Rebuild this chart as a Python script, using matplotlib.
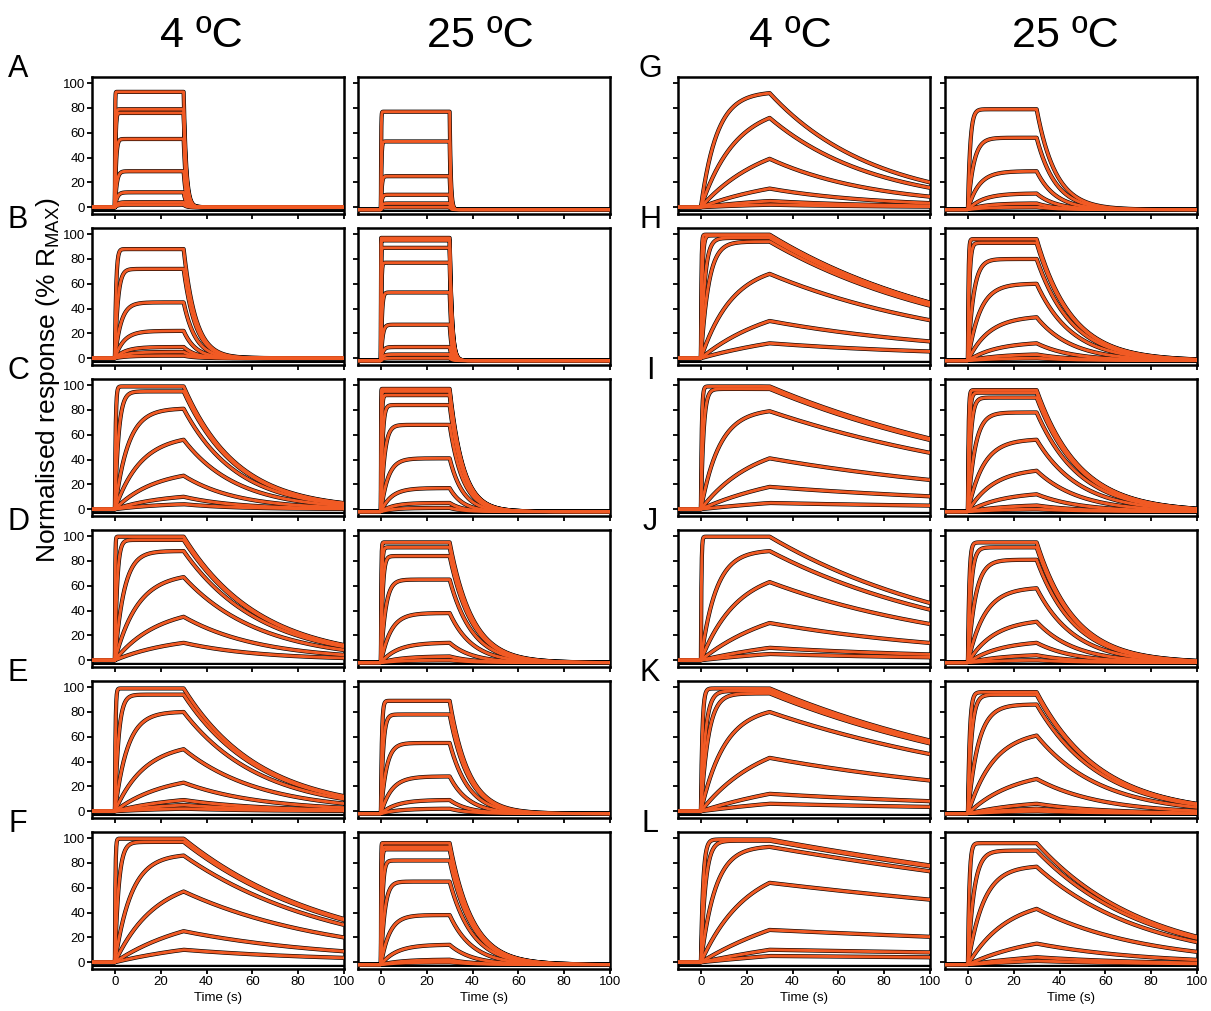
import numpy as np
import matplotlib.pyplot as plt

plt.rcParams['font.family'] = ['Liberation Sans', 'DejaVu Sans']

# response at the end of the 30 s injection, % Rmax
peaks_A4 = [93, 79, 76, 55, 29, 12, 4, 2]
peaks_A25 = [79, 55, 27, 12, 5, 2]
peaks_B4 = [88, 72, 45, 22, 9, 5, 2]
peaks_B25 = [99, 97, 91, 79, 55, 29, 11, 5, 2]
peaks_C4 = [99, 95, 81, 56, 27, 10, 4]
peaks_C25 = [99, 97, 94, 86, 70, 43, 19, 7, 3]
peaks_D4 = [100, 97, 88, 67, 35, 14]
peaks_D25 = [97, 93, 86, 67, 40, 16, 5, 2]
peaks_E4 = [99, 94, 80, 50, 23, 9, 5, 2]
peaks_E25 = [91, 80, 57, 30, 11, 4]
peaks_F4 = [100, 97, 86, 57, 25, 10]
peaks_F25 = [98, 95, 93, 84, 67, 40, 16, 4, 2]
peaks_G4 = [92, 72, 39, 15, 5, 2]
peaks_G25 = [81, 58, 31, 13, 5, 2]
peaks_H4 = [100, 99, 97, 94, 68, 30, 12]
peaks_H25 = [98, 95, 82, 62, 35, 14, 5, 2]
peaks_I4 = [99, 97, 79, 41, 18, 5]
peaks_I25 = [98, 96, 92, 80, 58, 33, 14, 5, 2]
peaks_J4 = [100, 88, 63, 30, 10, 5]
peaks_J25 = [97, 93, 83, 60, 33, 16, 6, 2]
peaks_K4 = [99, 97, 95, 80, 43, 14, 6]
peaks_K25 = [98, 96, 88, 63, 28, 8, 4, 2]
peaks_L4 = [99, 98, 93, 64, 26, 10, 5]
peaks_L25 = [98, 92, 79, 45, 17, 6, 3]

letters = list("ABCDEFGHIJKL")
# off-rates (1/s) from the decay of the top trace
koff_4 = [0.9, 0.19, 0.043, 0.030, 0.030, 0.015, 0.0218, 0.0114, 0.0079, 0.011, 0.0079, 0.0034]
koff_25 = [2.0, 1.0, 0.17, 0.10, 0.12, 0.10, 0.12, 0.065, 0.053, 0.06, 0.036, 0.021]
# how fast the association phase rises relative to a plain 1:1 model
assoc_4 = [1, 1.2, 0.7, 1.0, 1.25, 1.2, 0.4, 1.6, 3.4, 1.6, 2.0, 3.0]
assoc_25 = [1, 1, 1.2, 2, 1.9, 2.5, 1.7, 1.2, 1.3, 0.85, 0.7, 1.5]
base_4 = 0.0
base_25 = -2.0
blank = -3.0

t_inj = 30.0
t = np.linspace(-10, 100, 1101)

peaks_all = {k: v for k, v in globals().items() if k.startswith('peaks_')}

orange = '#F15A24'


def kobs(f, koff, s):
    return koff * (1 + s * f / (1 - f))


def solve_f(p, koff, s):
    # find fraction at equilibrium so that the trace reaches p at t_inj
    p = min(p, 99.6) / 100.0
    lo, hi = p, 0.9995
    for _ in range(60):
        mid = 0.5 * (lo + hi)
        val = mid * (1 - np.exp(-kobs(mid, koff, s) * t_inj))
        if val < p:
            lo = mid
        else:
            hi = mid
    return 0.5 * (lo + hi)


def trace(p, koff, s, base):
    f = solve_f(p, koff, s)
    k = kobs(f, koff, s)
    y = np.zeros_like(t)
    a = (t >= 0) & (t <= t_inj)
    y[a] = 100 * f * (1 - np.exp(-k * t[a]))
    r30 = 100 * f * (1 - np.exp(-k * t_inj))
    d = t > t_inj
    y[d] = r30 * np.exp(-koff * (t[d] - t_inj))
    return y + base


W, H = 1211, 1011
fig = plt.figure(figsize=(W / 100, H / 100), dpi=100)

col_left = [92, 358, 678, 945]
ax_w = 252
row_top = [77, 228, 379, 530, 681, 832]
ax_h = 137

for i, let in enumerate(letters):
    row = i % 6
    block = i // 6
    for j, temp in enumerate(['4', '25']):
        col = block * 2 + j
        left = col_left[col]
        top = row_top[row]
        ax = fig.add_axes([left / W, 1 - (top + ax_h) / H, ax_w / W, ax_h / H])
        if temp == '4':
            koff, s, base = koff_4[i], assoc_4[i], base_4
        else:
            koff, s, base = koff_25[i], assoc_25[i], base_25
        pk = peaks_all['peaks_' + let + temp]
        ax.plot(t, np.full_like(t, blank), color='black', lw=1.6, zorder=1)
        for p in pk:
            y = trace(p, koff, s, base)
            ax.plot(t, y, color='black', lw=3.0, zorder=2, solid_capstyle='butt')
        for p in pk:
            y = trace(p, koff, s, base)
            ax.plot(t, y, color=orange, lw=2.1, zorder=3, solid_capstyle='butt')
        ax.set_xlim(-10, 100)
        ax.set_ylim(-5.5, 105)
        ax.set_xticks([0, 20, 40, 60, 80, 100])
        ax.set_yticks([0, 20, 40, 60, 80, 100])
        ax.tick_params(direction='out', length=3.5, width=1.3, labelsize=9.5, pad=1.5)
        for sp in ax.spines.values():
            sp.set_linewidth(1.8)
        if col != 0:
            ax.set_yticklabels([])
        if row != 5:
            ax.set_xticklabels([])
        else:
            ax.set_xlabel('Time (s)', fontsize=9.5, labelpad=3)
    fig.text((18 if block == 0 else 650) / W, 1 - (row_top[row] - 8) / H, let,
             fontsize=22, ha='center', va='center')

for c, lab in zip([201, 480, 790, 1065], ['4 ºC', '25 ºC', '4 ºC', '25 ºC']):
    fig.text(c / W, 1 - 36 / H, lab, fontsize=31, ha='center', va='center')

fig.text(48 / W, 1 - 380 / H, 'Normalised response (% R$_{\\mathregular{MAX}}$)',
         rotation=90, fontsize=19, ha='center', va='center')

fig.savefig('out.png', dpi=100)
